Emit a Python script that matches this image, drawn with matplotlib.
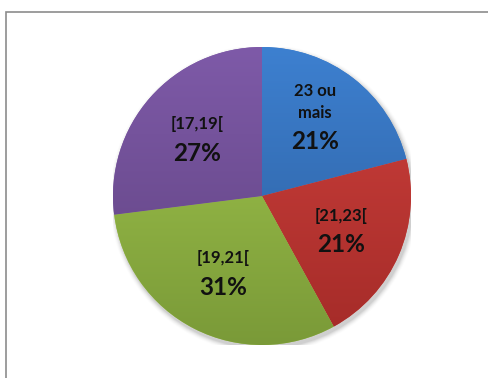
import matplotlib.pyplot as plt
import matplotlib.patches as mpatches
import numpy as np
from matplotlib.colors import LinearSegmentedColormap

labels = ['23 ou\nmais', '[21,23[', '[19,21[', '[17,19[']
values = [21, 21, 31, 27]
top_colors = ['#3d80d0', '#cf413d', '#a3c84e', '#7e5aa8']
bottom_colors = ['#2c5c9a', '#a42b28', '#7a9a38', '#5f427f']

fig = plt.figure(figsize=(4.89, 3.78), dpi=100)
fig.patch.set_facecolor('white')

# chart border (runs off the right and bottom edge)
fig.patches.append(mpatches.Rectangle((6 / 489, -0.1), 1.0, 1 - 12 / 378 + 0.1,
                                      transform=fig.transFigure, fill=False,
                                      edgecolor='#8c8c8c', linewidth=1.2))

ax = fig.add_axes([(262 - 149) / 489, (378 - 196 - 149) / 378, 298 / 489, 298 / 378])
ax.axis('off')

# soft shadow
for i, a in enumerate(np.linspace(0.05, 0.012, 6)):
    ax.add_patch(mpatches.Circle((0.012, -0.02), 1.0 + 0.006 * (i + 1),
                                 facecolor='#000000', alpha=a, edgecolor='none', zorder=0))

wedges, _ = ax.pie(values, startangle=90, counterclock=False, radius=1.0,
                   colors=top_colors, wedgeprops=dict(linewidth=0))

grad = np.linspace(0, 1, 256).reshape(-1, 1)
for w, c0, c1 in zip(wedges, top_colors, bottom_colors):
    cmap = LinearSegmentedColormap.from_list('g', [c0, c1])
    im = ax.imshow(grad, cmap=cmap, extent=(-1, 1, -1, 1), origin='upper',
                   aspect='auto', zorder=2)
    im.set_clip_path(w)
    w.set_zorder(1)

for w, lab, v in zip(wedges, labels, values):
    ang = np.deg2rad((w.theta1 + w.theta2) / 2)
    r = 0.58
    x, y = r * np.cos(ang), r * np.sin(ang)
    ax.text(x, y + 0.045, lab, ha='center', va='bottom', fontsize=12,
            fontweight='bold', family='Lato', linespacing=1.5, zorder=5, color='#111111')
    ax.text(x, y - 0.095, f'{v}%', ha='center', va='center', fontsize=17.5,
            fontweight='bold', family='Lato', zorder=5, color='#111111')

ax.set_xlim(-1.0, 1.0)
ax.set_ylim(-1.0, 1.0)
ax.set_aspect('equal')

fig.savefig('out.png', dpi=100)
